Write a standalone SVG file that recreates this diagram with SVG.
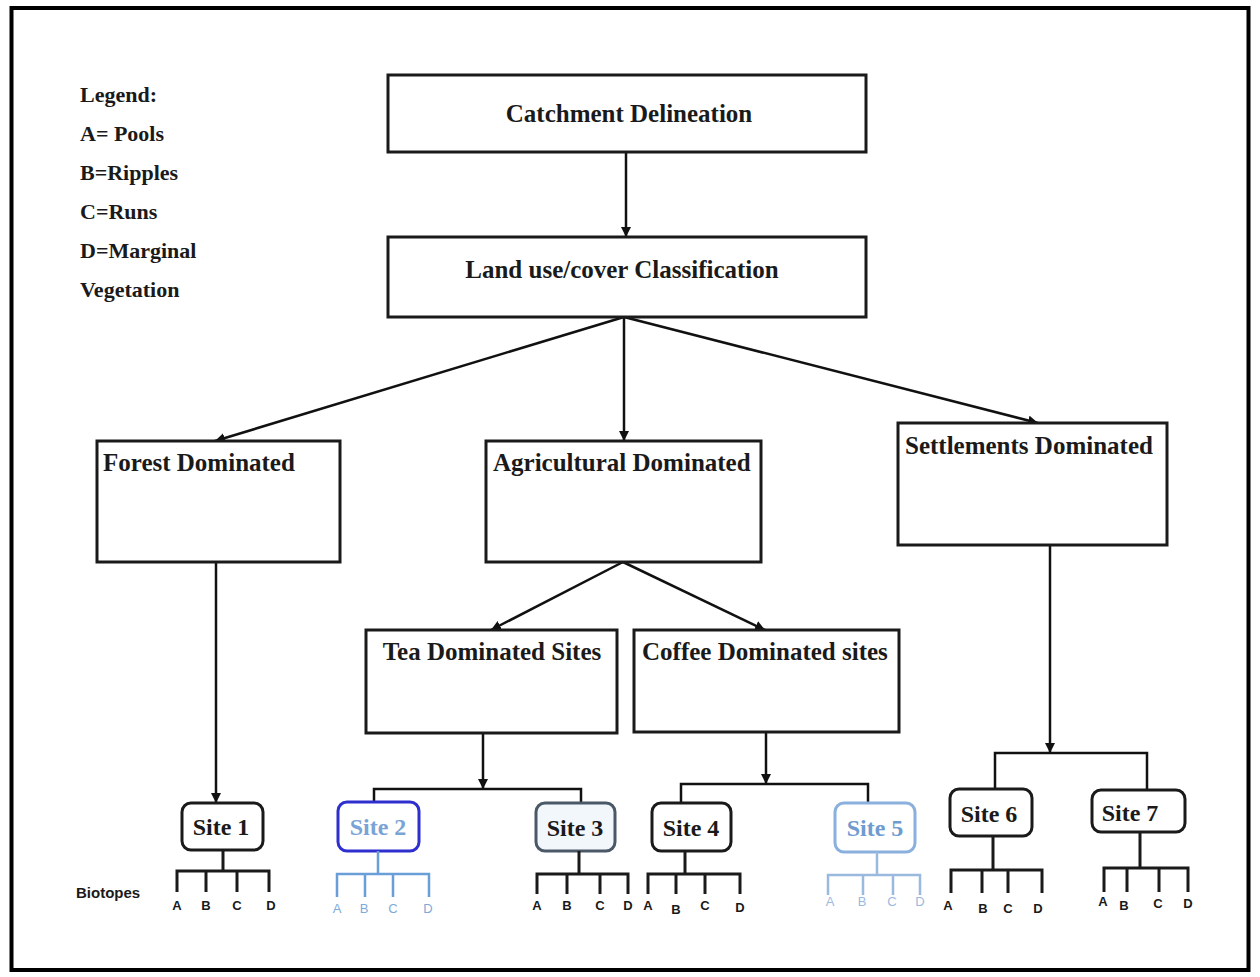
<svg xmlns="http://www.w3.org/2000/svg" width="1260" height="977" viewBox="0 0 1260 977">
<defs>
<marker id="ah" viewBox="0 0 10 10" refX="10" refY="5" markerWidth="4" markerHeight="4" orient="auto" markerUnits="strokeWidth">
<path d="M0,0 L10,5 L0,10 z" fill="#111"/>
</marker>
<style>
.box{fill:#fff;stroke:#1a1a1a;stroke-width:3}
.t{font-family:"Liberation Serif","Times New Roman",serif;font-weight:bold;font-size:25px;fill:#1a1a1a}
.lg{font-family:"Liberation Serif","Times New Roman",serif;font-weight:bold;font-size:22px;fill:#1a1a1a}
.st{font-family:"Liberation Serif","Times New Roman",serif;font-weight:bold;font-size:24px;fill:#1a1a1a;text-anchor:middle}
.con{fill:none;stroke:#111;stroke-width:2.5}
.sb{fill:#fff;stroke:#1a1a1a;stroke-width:3}
.bt{fill:none;stroke:#1a1a1a;stroke-width:3}
.btb{fill:none;stroke:#6a9ed8;stroke-width:2.5}
.btl{fill:none;stroke:#9ab9df;stroke-width:2.5}
.bl{font-family:"Liberation Sans",Arial,sans-serif;font-weight:bold;font-size:13px;fill:#1a1a1a;text-anchor:middle}
.blb{font-family:"Liberation Sans",Arial,sans-serif;font-size:13px;fill:#7ea9da;text-anchor:middle}
</style>
</defs>
<rect x="0" y="0" width="1260" height="977" fill="#fff"/>
<rect x="11.5" y="8" width="1237" height="962" fill="none" stroke="#000" stroke-width="4"/>

<g id="legend">
<text class="lg" x="80" y="102">Legend:</text>
<text class="lg" x="80" y="141">A= Pools</text>
<text class="lg" x="80" y="180">B=Ripples</text>
<text class="lg" x="80" y="219">C=Runs</text>
<text class="lg" x="80" y="258">D=Marginal</text>
<text class="lg" x="80" y="297">Vegetation</text>
</g>

<g id="biotopes-label">
<text x="76" y="898" font-family="'Liberation Sans',Arial,sans-serif" font-weight="bold" font-size="15" fill="#1a1a1a">Biotopes</text>
</g>

<g id="connectors">
<line class="con" x1="626" y1="152" x2="626" y2="237" marker-end="url(#ah)"/>
<line class="con" x1="624" y1="317" x2="215" y2="441" marker-end="url(#ah)"/>
<line class="con" x1="624" y1="317" x2="624" y2="441" marker-end="url(#ah)"/>
<line class="con" x1="624" y1="317" x2="1038" y2="423" marker-end="url(#ah)"/>
<line class="con" x1="623" y1="562" x2="491" y2="630" marker-end="url(#ah)"/>
<line class="con" x1="623" y1="562" x2="765" y2="630" marker-end="url(#ah)"/>
<line class="con" x1="216" y1="562" x2="216" y2="803" marker-end="url(#ah)"/>
<line class="con" x1="483" y1="733" x2="483" y2="789" marker-end="url(#ah)"/>
<polyline class="con" points="374,803 374,789 581,789 581,803"/>
<line class="con" x1="766" y1="732" x2="766" y2="784" marker-end="url(#ah)"/>
<polyline class="con" points="681,803 681,784 868,784 868,803"/>
<line class="con" x1="1050" y1="545" x2="1050" y2="753" marker-end="url(#ah)"/>
<polyline class="con" points="995,789 995,753 1147,753 1147,790"/>
</g>

<g id="catchment">
<rect class="box" x="388" y="75" width="478" height="77"/>
<text class="t" x="629" y="122" text-anchor="middle">Catchment Delineation</text>
</g>
<g id="landuse">
<rect class="box" x="388" y="237" width="478" height="80"/>
<text class="t" x="622" y="278" text-anchor="middle">Land use/cover Classification</text>
</g>
<g id="forest">
<rect class="box" x="97" y="441" width="243" height="121"/>
<text class="t" x="103" y="471">Forest Dominated</text>
</g>
<g id="agricultural">
<rect class="box" x="486" y="441" width="275" height="121"/>
<text class="t" x="493" y="471">Agricultural Dominated</text>
</g>
<g id="settlements">
<rect class="box" x="898" y="423" width="269" height="122"/>
<text class="t" x="905" y="454">Settlements Dominated</text>
</g>
<g id="tea">
<rect class="box" x="366" y="630" width="251" height="103"/>
<text class="t" x="492" y="660" text-anchor="middle">Tea Dominated Sites</text>
</g>
<g id="coffee">
<rect class="box" x="634" y="630" width="265" height="102"/>
<text class="t" x="642" y="660">Coffee Dominated sites</text>
</g>

<g id="site1">
<rect class="sb" x="182" y="803" width="81" height="47" rx="9"/>
<text class="st" x="221" y="835">Site 1</text>
<path class="bt" d="M223,850 V871 M177,892 V871 H269 V892 M206,871 V892 M237,871 V892"/>
<text class="bl" x="177" y="910">A</text><text class="bl" x="206" y="910">B</text><text class="bl" x="237" y="910">C</text><text class="bl" x="271" y="910">D</text>
</g>
<g id="site2">
<rect x="338" y="802" width="81" height="49" rx="9" fill="#fff" stroke="#2f2fd0" stroke-width="3"/>
<text class="st" x="378" y="835" style="fill:#7aa3d6">Site 2</text>
<path class="btb" d="M378,851 V874 M337,897 V874 H429 V897 M365,874 V897 M393,874 V897"/>
<text class="blb" x="337" y="913">A</text><text class="blb" x="364" y="913">B</text><text class="blb" x="393" y="913">C</text><text class="blb" x="428" y="913">D</text>
</g>
<g id="site3">
<rect x="536" y="803" width="79" height="48" rx="9" fill="#f2f7fc" stroke="#4a5868" stroke-width="3"/>
<text class="st" x="575" y="836">Site 3</text>
<path class="bt" d="M579,851 V874 M537,894 V874 H628 V894 M567,874 V894 M600,874 V894"/>
<text class="bl" x="537" y="910">A</text><text class="bl" x="567" y="910">B</text><text class="bl" x="600" y="910">C</text><text class="bl" x="628" y="910">D</text>
</g>
<g id="site4">
<rect class="sb" x="652" y="803" width="79" height="48" rx="9"/>
<text class="st" x="691" y="836">Site 4</text>
<path class="bt" d="M685,851 V874 M648,894 V874 H740 V894 M676,874 V894 M705,874 V894"/>
<text class="bl" x="648" y="910">A</text><text class="bl" x="676" y="914">B</text><text class="bl" x="705" y="910">C</text><text class="bl" x="740" y="912">D</text>
</g>
<g id="site5">
<rect x="835" y="803" width="80" height="49" rx="9" fill="#fff" stroke="#8ab0dd" stroke-width="3"/>
<text class="st" x="875" y="836" style="fill:#6f9bcf">Site 5</text>
<path class="btl" d="M877,852 V875 M828,895 V875 H920 V895 M863,875 V895 M893,875 V895"/>
<text class="blb" x="830" y="906" style="fill:#9ab9df">A</text><text class="blb" x="862" y="906" style="fill:#9ab9df">B</text><text class="blb" x="892" y="906" style="fill:#9ab9df">C</text><text class="blb" x="920" y="906" style="fill:#9ab9df">D</text>
</g>
<g id="site6">
<rect class="sb" x="950" y="789" width="82" height="47" rx="9"/>
<text class="st" x="989" y="822">Site 6</text>
<path class="bt" d="M993,836 V870 M951,893 V870 H1042 V893 M982,870 V893 M1008,870 V893"/>
<text class="bl" x="948" y="910">A</text><text class="bl" x="983" y="913">B</text><text class="bl" x="1008" y="913">C</text><text class="bl" x="1038" y="913">D</text>
</g>
<g id="site7">
<rect class="sb" x="1092" y="790" width="93" height="42" rx="9"/>
<text class="st" x="1130" y="821">Site 7</text>
<path class="bt" d="M1140,832 V868 M1104,892 V868 H1188 V892 M1127,868 V892 M1159,868 V892"/>
<text class="bl" x="1103" y="906">A</text><text class="bl" x="1124" y="910">B</text><text class="bl" x="1158" y="908">C</text><text class="bl" x="1188" y="908">D</text>
</g>
</svg>
